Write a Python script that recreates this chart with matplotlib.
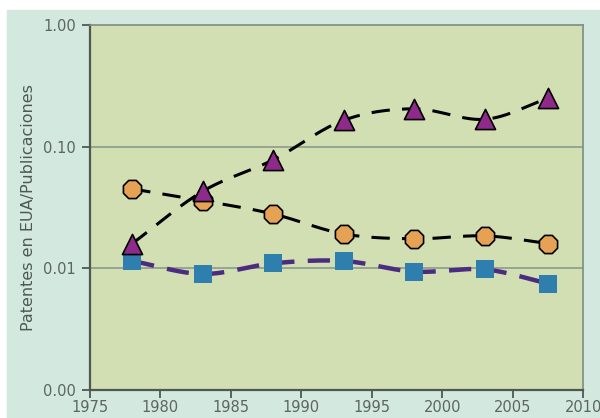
import numpy as np
import matplotlib.pyplot as plt
from matplotlib.patches import Rectangle

# values
years = [1978, 1983, 1988, 1993, 1998, 2003, 2007.5]
triangles = [0.016, 0.043, 0.078, 0.165, 0.205, 0.168, 0.25]
circles = [0.045, 0.036, 0.028, 0.0192, 0.0175, 0.0185, 0.0160]
squares = [0.0115, 0.0090, 0.0110, 0.0115, 0.0094, 0.0098, 0.0075]

y_ticks = [0.001, 0.01, 0.1, 1.0]
y_tick_labels = ["0.00", "0.01", "0.10", "1.00"]
x_ticks = [1975, 1980, 1985, 1990, 1995, 2000, 2005, 2010]


def smooth(x, y, n=30):
    # Catmull-Rom curve in log space, like a spreadsheet "smoothed line"
    x = np.asarray(x, float)
    ly = np.log10(y)
    px = np.concatenate([[2 * x[0] - x[1]], x, [2 * x[-1] - x[-2]]])
    py = np.concatenate([[2 * ly[0] - ly[1]], ly, [2 * ly[-1] - ly[-2]]])
    xs, ys = [], []
    t = np.linspace(0, 1, n)
    for i in range(1, len(px) - 2):
        for arr, out in ((px, xs), (py, ys)):
            p0, p1, p2, p3 = arr[i - 1], arr[i], arr[i + 1], arr[i + 2]
            out.extend(0.5 * (2 * p1 + (-p0 + p2) * t
                              + (2 * p0 - 5 * p1 + 4 * p2 - p3) * t ** 2
                              + (-p0 + 3 * p1 - 3 * p2 + p3) * t ** 3))
    return np.array(xs), 10 ** np.array(ys)


fig = plt.figure(figsize=(6, 4.18), dpi=100, facecolor="white")
fig.patches.append(Rectangle((7 / 600, 0), 1, (418 - 10) / 418,
                             transform=fig.transFigure, color="#d3e8de", zorder=-1))
ax = fig.add_axes([0.15, 0.067, 0.822, 0.873])
ax.set_facecolor("#d2dfb2")

ax.set_yscale("log")
ax.set_xlim(1975, 2010)
ax.set_ylim(0.001, 1.0)

for yy in [0.01, 0.1]:
    ax.axhline(yy, color="#86958a", linewidth=1.1, zorder=1)

# lines
sx, sy = smooth(years, triangles)
ax.plot(sx, sy, color="black", linestyle=(0, (6, 4)), linewidth=2.2, zorder=2)
sx, sy = smooth(years, circles)
ax.plot(sx, sy, color="black", linestyle=(0, (6, 4)), linewidth=2.2, zorder=2)
sx, sy = smooth(years, squares)
ax.plot(sx, sy, color="#4b2c80", linestyle=(0, (5, 3)), linewidth=3.2, zorder=2)

# markers
ax.scatter(years, squares, marker="s", s=160, color="#2f7fae", zorder=3, linewidths=0)
ax.scatter(years, circles, marker="8", s=200, color="#e6a254", edgecolors="black",
           linewidths=1.2, zorder=4)
ax.scatter(years, triangles, marker="^", s=210, color="#8e2a8a", edgecolors="black",
           linewidths=1.2, zorder=5)

ax.set_yticks(y_ticks)
ax.set_yticklabels(y_tick_labels)
ax.yaxis.set_minor_locator(plt.NullLocator())
ax.set_xticks(x_ticks)
ax.tick_params(axis="both", colors="#4d5a52", labelcolor="#5c6660", labelsize=10.5,
               length=6, width=1.3, direction="out")
ax.tick_params(axis="y", pad=4)
ax.tick_params(axis="x", pad=1)

for side in ["left", "bottom"]:
    ax.spines[side].set_color("#4d5a52")
    ax.spines[side].set_linewidth(1.6)
for side in ["top", "right"]:
    ax.spines[side].set_color("#7c8c80")
    ax.spines[side].set_linewidth(1.2)

ax.set_ylabel("Patentes en EUA/Publicaciones", fontsize=11.5, color="#4d5a52", labelpad=5)

plt.savefig("out.png", dpi=100, facecolor=fig.get_facecolor())
